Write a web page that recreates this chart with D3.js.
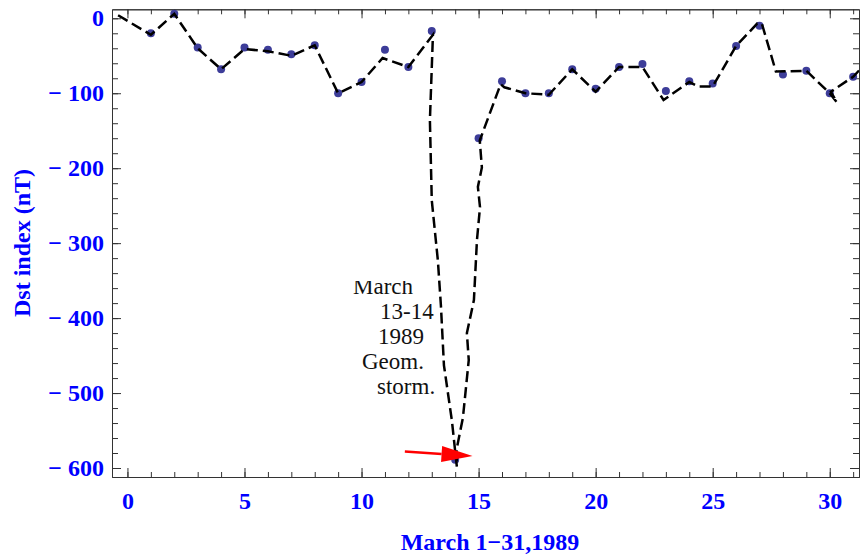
<!DOCTYPE html>
<html>
<head>
<meta charset="utf-8">
<script src="https://cdn.jsdelivr.net/npm/d3@7"></script>
<style>
body { margin: 0; background: #fff; }
.tick text { font-family: "Liberation Serif", "Times New Roman", serif; font-weight: bold; fill: #0000ff; font-size: 24px; }
.axis path, .axis line { stroke: #333; }
</style>
</head>
<body>
<div id="chart"></div>
<script>
// daily Dst values (dots), March 1989
let days = [1, 2, 3, 4, 5, 6, 7, 8, 9, 10, 11, 12, 13, 14, 15, 16, 17, 18, 19, 20, 21, 22, 23, 24, 25, 26, 27, 28, 29, 30, 31];
let dst = [-20, 6, -39, -68, -39, -42, -48, -36, -100, -85, -42, -65, -17, -589, -160, -84, -100, -100, -68, -94, -65, -61, -97, -84, -87, -37, -10, -75, -70, -100, -78];

// finer trace drawn as the dashed curve (day, nT)
let traceDay = [-0.4, 1, 2, 3, 4, 5, 6, 7, 8, 9, 10, 10.9, 12, 13.05, 12.92, 13.0, 13.26, 13.39, 13.52, 13.86, 14.07,
	14.06, 14.33, 14.58, 14.5, 14.8, 14.93, 15.06, 14.97, 15.14, 15.05, 15.94, 16.1, 17, 18, 19, 20, 21, 22, 22.9,
	24, 24.4, 25, 26, 26.9, 27.1, 27.7, 29, 30, 30.3, 30.05, 31, 31.3];
let traceDst = [4, -22, 6, -40, -68, -41, -44, -50, -36, -100, -85, -53, -65, -22, -136, -243, -323, -383, -463, -537, -598,
	-575, -533, -456, -420, -376, -296, -252, -225, -199, -163, -88, -92, -100, -102, -68, -98, -65, -65, -109,
	-85, -91, -91, -37, -7, -7, -71, -70, -100, -112, -98, -78, -68];

let xTicks = [0, 5, 10, 15, 20, 25, 30];
let yTicks = [0, -100, -200, -300, -400, -500, -600];
let noteLines = ["March", "13-14", "1989", "Geom.", "storm."];

let width = 861, height = 556;
let pLeft = 112, pRight = 859, pTop = 9.3, pBottom = 477;

var x = d3.scaleLinear().domain([-0.66, 31.25]).range([pLeft, pRight]);
var y = d3.scaleLinear().domain([-612, 12]).range([pBottom, pTop]);

var svg = d3.select("#chart")
	.append("svg")
	.attr("width", width)
	.attr("height", height);

var fmt = function(d) { return d < 0 ? "\u2212 " + (-d) : "" + d; };

svg.append("defs").append("clipPath").attr("id", "plot")
	.append("rect").attr("x", pLeft).attr("y", pTop).attr("width", pRight - pLeft).attr("height", pBottom - pTop);

// minor ticks
let xMinor = d3.range(0, 32);
let yMinor = d3.range(-600, 1, 20);

function frame(axisFn, scale, values, size, label, tr) {
	var a = axisFn(scale).tickValues(values).tickSize(size).tickSizeOuter(0);
	if (label) a.tickFormat(fmt); else a.tickFormat("");
	return svg.append("g").attr("class", "axis").attr("transform", tr).call(a);
}

frame(d3.axisBottom, x, xMinor, -5, false, "translate(0," + pBottom + ")");
frame(d3.axisBottom, x, xTicks, -9, true, "translate(0," + pBottom + ")").call(g => g.selectAll(".tick text").attr("y", 15));
frame(d3.axisTop, x, xMinor, -5, false, "translate(0," + pTop + ")");
frame(d3.axisTop, x, xTicks, -9, false, "translate(0," + pTop + ")");
frame(d3.axisLeft, y, yMinor, -6, false, "translate(" + pLeft + ",0)");
frame(d3.axisLeft, y, yTicks, -9, true, "translate(" + pLeft + ",0)").call(g => g.selectAll(".tick text").attr("x", -8));
frame(d3.axisRight, y, yMinor, -6, false, "translate(" + pRight + ",0)");
frame(d3.axisRight, y, yTicks, -9, false, "translate(" + pRight + ",0)");

var plot = svg.append("g").attr("clip-path", "url(#plot)");

var line = d3.line()
	.x(function(d, i) { return x(traceDay[i]); })
	.y(function(d, i) { return y(traceDst[i]); });

plot.selectAll(".dot")
	.data(days)
	.enter().append("circle")
	.attr("class", "dot")
	.attr("cx", function(d) { return x(d); })
	.attr("cy", function(d, i) { return y(dst[i]); })
	.attr("r", 4)
	.style("fill", "#3d3d99");

plot.append("path")
	.datum(traceDay)
	.attr("d", line)
	.style("fill", "none")
	.style("stroke", "#000")
	.style("stroke-width", 2.5)
	.style("stroke-dasharray", "11,5");

// annotation text
var noteX = [353, 380, 378, 362, 377];
svg.append("clipPath").attr("id", "noteclip")
	.append("rect").attr("x", 340).attr("y", 281).attr("width", 110).attr("height", 130);
svg.append("g").attr("clip-path", "url(#noteclip)")
	.selectAll(".note")
	.data(noteLines)
	.enter().append("text")
	.attr("x", function(d, i) { return noteX[i]; })
	.attr("y", function(d, i) { return 294 + i * 25; })
	.style("font-family", "'Liberation Serif', 'Times New Roman', serif")
	.style("font-size", "23px")
	.style("fill", "#111")
	.text(function(d) { return d; });

// red arrow toward the minimum
var ax0 = x(11.85), ay0 = y(-578), ax1 = x(14.74), ay1 = y(-584);
var ang = Math.atan2(ay1 - ay0, ax1 - ax0);
var hl = 31, hw = 8;
var bx = ax1 - hl * Math.cos(ang), by = ay1 - hl * Math.sin(ang);
svg.append("line")
	.attr("x1", ax0).attr("y1", ay0).attr("x2", bx).attr("y2", by)
	.style("stroke", "#ff0000").style("stroke-width", 2.5);
svg.append("path")
	.attr("d", "M" + ax1 + "," + ay1 +
		"L" + (bx + hw * Math.sin(ang)) + "," + (by - hw * Math.cos(ang)) +
		"L" + (bx - hw * Math.sin(ang)) + "," + (by + hw * Math.cos(ang)) + "Z")
	.style("fill", "#ff0000");

// axis titles
svg.append("text")
	.attr("transform", "translate(29.5,243) rotate(-90)")
	.attr("text-anchor", "middle")
	.style("font-family", "'Liberation Serif', 'Times New Roman', serif")
	.style("font-weight", "bold")
	.style("font-size", "24px")
	.style("fill", "#0000ff")
	.text("Dst index (nT)");

svg.append("text")
	.attr("x", 490)
	.attr("y", 550)
	.attr("text-anchor", "middle")
	.style("font-family", "'Liberation Serif', 'Times New Roman', serif")
	.style("font-weight", "bold")
	.style("font-size", "24px")
	.style("fill", "#0000ff")
	.text("March 1\u221231,1989");
</script>
</body>
</html>
